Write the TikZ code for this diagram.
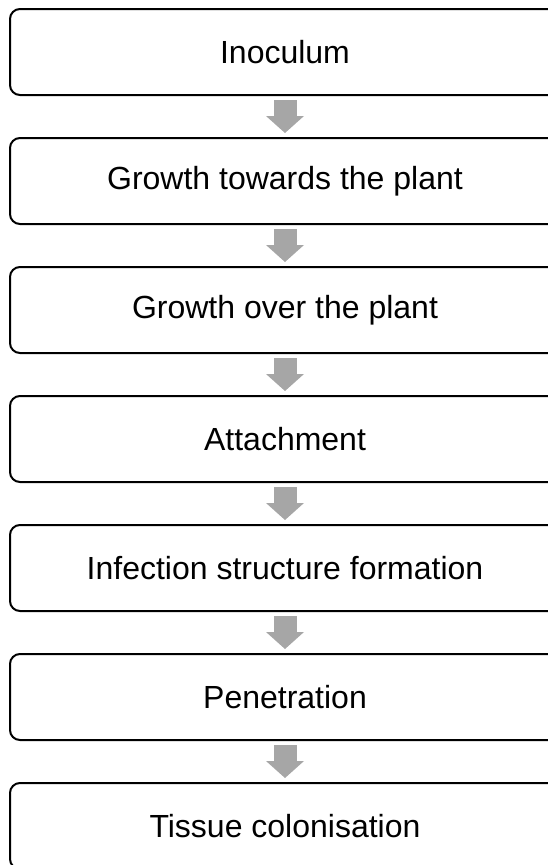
\documentclass[tikz,border=0pt]{standalone}
\usepackage{fontspec}
\setmainfont{Liberation Sans}
\usetikzlibrary{positioning}
\usetikzlibrary{arrows.meta}

\definecolor{arrowgray}{HTML}{A6A6A6}

\begin{document}
\begin{tikzpicture}[x = 1pt, y = 1pt, line join = round,
  stagebox/.style = {draw, line width = 2pt, rounded corners = 10pt,
    minimum width = 550pt, minimum height = 86pt, outer sep = 0pt,
    inner sep = 0pt, font = \fontsize{32}{38}\selectfont},
  stagearrow/.style = {draw = arrowgray, line width = 23pt, line join = miter,
    -{Triangle[width = 38pt, length = 17pt, line width = 0pt]},
    shorten < = 5pt, shorten > = 5pt}]
  \useasboundingbox (0, 0) rectangle (548, -865);

  \node[stagebox] (inoculum) at (285, -52) {Inoculum};
  \node[stagebox, below = 43pt of inoculum] (towards)
  {Growth towards the plant};
  \node[stagebox, below = 43pt of towards] (over) {Growth over the plant};
  \node[stagebox, below = 43pt of over] (attach) {Attachment};
  \node[stagebox, below = 43pt of attach] (infect)
  {Infection structure formation};
  \node[stagebox, below = 43pt of infect] (penetr) {Penetration};
  \node[stagebox, below = 43pt of penetr] (colon) {Tissue colonisation};

  \foreach \a/\b in {inoculum/towards, towards/over, over/attach,
    attach/infect, infect/penetr, penetr/colon}
    \draw[stagearrow] (\a) -- (\b);
\end{tikzpicture}
\end{document}
